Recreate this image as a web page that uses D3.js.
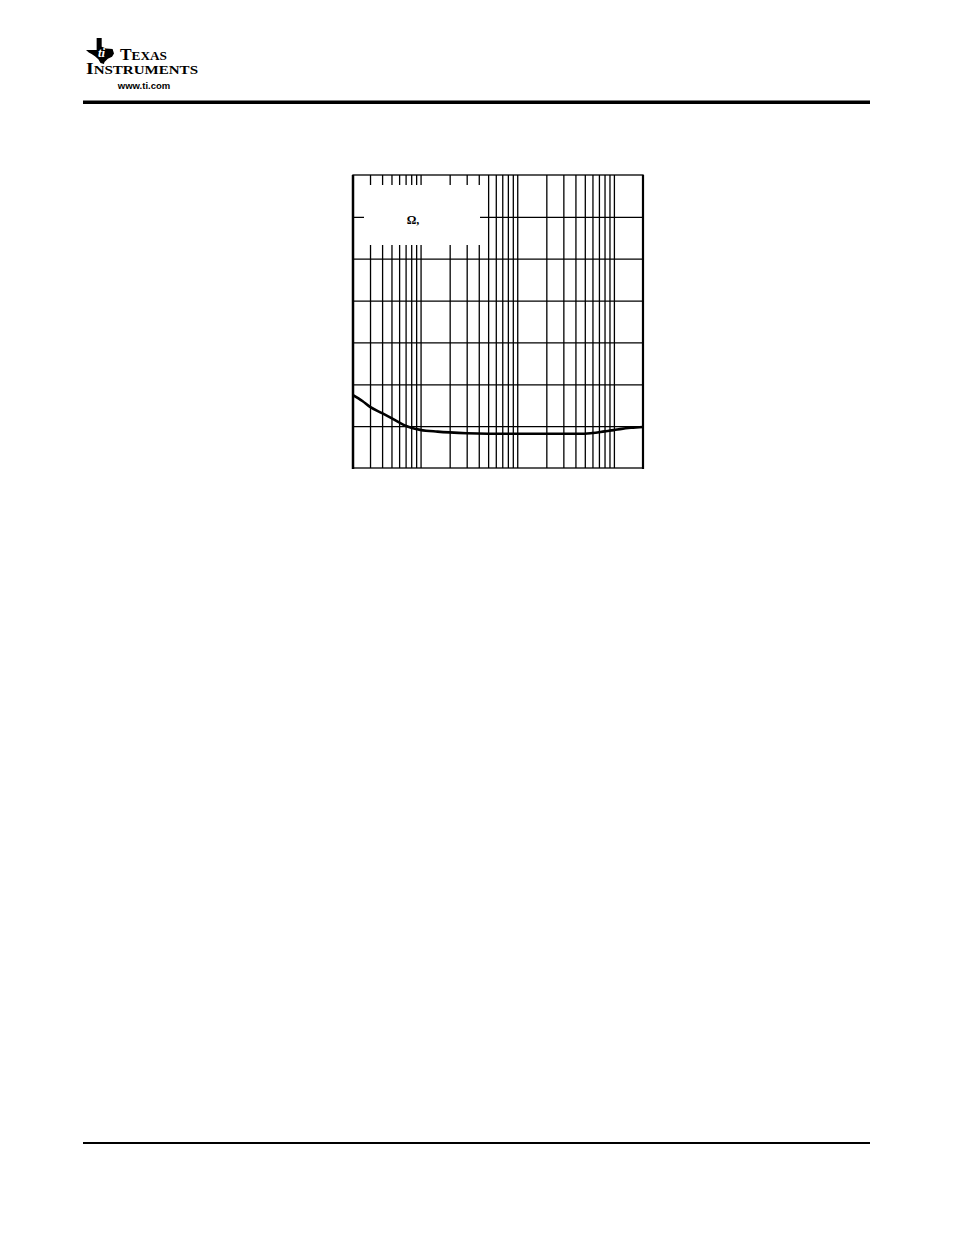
<!DOCTYPE html>
<html>
<head>
<meta charset="utf-8">
<script src="https://cdn.jsdelivr.net/npm/d3@7"></script>
<style>
  html, body { margin: 0; padding: 0; background: #fff; }
  svg { display: block; }
</style>
</head>
<body>
<svg id="page" width="954" height="1235"></svg>
<script>
// ---- data ----
const freqHz = [20, 25, 30, 40, 50, 60, 70, 80, 100, 150, 200, 300, 500, 1000, 2000, 5000, 6000, 8000, 10000, 12000, 15000, 20000];
const thdValues = [1.74, 1.6, 1.46, 1.31, 1.19, 1.09, 1.01, 0.96, 0.91, 0.87, 0.85, 0.83, 0.82, 0.82, 0.82, 0.82, 0.836, 0.875, 0.905, 0.935, 0.96, 0.98];
const xDomain = [20, 20000];
const yDomain = [0, 7];
const yGridValues = [1, 2, 3, 4, 5, 6];
const xTickLabels = [];   // tick labels are not legible in the source
const legendText = "Ω,";

const svg = d3.select("#page");

// ---- page header / footer ----
const hdr = svg.append("g");
// TI Texas icon (approximate)
const icon = [[0.38,0],[0.56,0],[0.56,0.34],[0.72,0.4],[0.95,0.42],[1.0,0.6],[0.93,0.72],[0.78,0.8],[0.66,0.92],[0.64,1.0],[0.52,0.96],[0.44,0.82],[0.32,0.7],[0.2,0.62],[0.1,0.56],[0,0.46],[0.38,0.46]];
const ix = d3.scaleLinear().domain([0,1]).range([86, 114]);
const iy = d3.scaleLinear().domain([0,1]).range([38, 64]);
hdr.append("path")
  .attr("d", d3.line().x(d => ix(d[0])).y(d => iy(d[1]))(icon) + "Z")
  .attr("fill", "#000");
hdr.append("text").attr("x", 98).attr("y", 57)
  .attr("font-family", "Liberation Serif").attr("font-style", "italic").attr("font-weight", "bold")
  .attr("font-size", 13).attr("fill", "#fff").text("ti");

const t1 = hdr.append("text").attr("x", 120).attr("y", 59.5)
  .attr("font-family", "Liberation Serif").attr("font-weight", "bold")
  .attr("textLength", 47).attr("lengthAdjust", "spacingAndGlyphs");
t1.append("tspan").attr("font-size", 17).text("T");
t1.append("tspan").attr("font-size", 13).text("EXAS");
const t2 = hdr.append("text").attr("x", 86).attr("y", 74)
  .attr("font-family", "Liberation Serif").attr("font-weight", "bold")
  .attr("textLength", 112).attr("lengthAdjust", "spacingAndGlyphs");
t2.append("tspan").attr("font-size", 17).text("I");
t2.append("tspan").attr("font-size", 13).text("NSTRUMENTS");
hdr.append("text").attr("x", 144).attr("y", 89)
  .attr("text-anchor", "middle")
  .attr("font-family", "Liberation Sans").attr("font-weight", "bold")
  .attr("font-size", 9.5).text("www.ti.com");

svg.append("rect").attr("x", 83).attr("y", 100.5).attr("width", 787).attr("height", 3.5).attr("fill", "#000");
svg.append("rect").attr("x", 83).attr("y", 1142).attr("width", 787).attr("height", 2).attr("fill", "#000");

// ---- chart ----
const L = 353, R = 643, T = 175, B = 468;
const x = d3.scaleLog().domain(xDomain).range([L, R]);
const y = d3.scaleLinear().domain(yDomain).range([B, T]);

const g = svg.append("g");

// vertical grid (log minor/major lines)
const xGridValues = [];
for (let dec = 10; dec <= 10000; dec *= 10) {
  for (let m = 1; m <= 9; m++) {
    const v = dec * m;
    if (v > xDomain[0] && v < xDomain[1]) xGridValues.push(v);
  }
}
const xAxis = d3.axisBottom(x).tickValues(xGridValues).tickSize(-(B - T)).tickSizeOuter(0).tickFormat(() => "");
const gx = g.append("g").attr("transform", `translate(0,${B})`).call(xAxis);
gx.select(".domain").remove();
gx.selectAll(".tick line").attr("stroke", "#000").attr("stroke-width", 1.3);

const yAxis = d3.axisLeft(y).tickValues(yGridValues).tickSize(-(R - L)).tickSizeOuter(0).tickFormat(() => "");
const gy = g.append("g").attr("transform", `translate(${L},0)`).call(yAxis);
gy.select(".domain").remove();
gy.selectAll(".tick line").attr("stroke", "#000").attr("stroke-width", 1.3);

// legend box (white, hides grid)
g.append("rect").attr("x", 364).attr("y", 185).attr("width", 116).attr("height", 60).attr("fill", "#fff");
g.append("text").attr("x", 413).attr("y", 224).attr("text-anchor", "middle")
  .attr("font-family", "Liberation Serif").attr("font-weight", "bold").attr("font-size", 12).text(legendText);

// frame
g.append("rect").attr("x", L).attr("y", T).attr("width", R - L).attr("height", B - T)
  .attr("fill", "none").attr("stroke", "#000").attr("stroke-width", 1.3);
g.append("line").attr("x1", L).attr("x2", L).attr("y1", T).attr("y2", B + 1).attr("stroke", "#000").attr("stroke-width", 2.5);
g.append("line").attr("x1", R).attr("x2", R).attr("y1", T).attr("y2", B + 1).attr("stroke", "#000").attr("stroke-width", 2.2);

// curve
const line = d3.line().x((d, i) => x(freqHz[i])).y(d => y(d)).curve(d3.curveMonotoneX);
g.append("path").datum(thdValues).attr("d", line)
  .attr("fill", "none").attr("stroke", "#000").attr("stroke-width", 2.6);
</script>
</body>
</html>
